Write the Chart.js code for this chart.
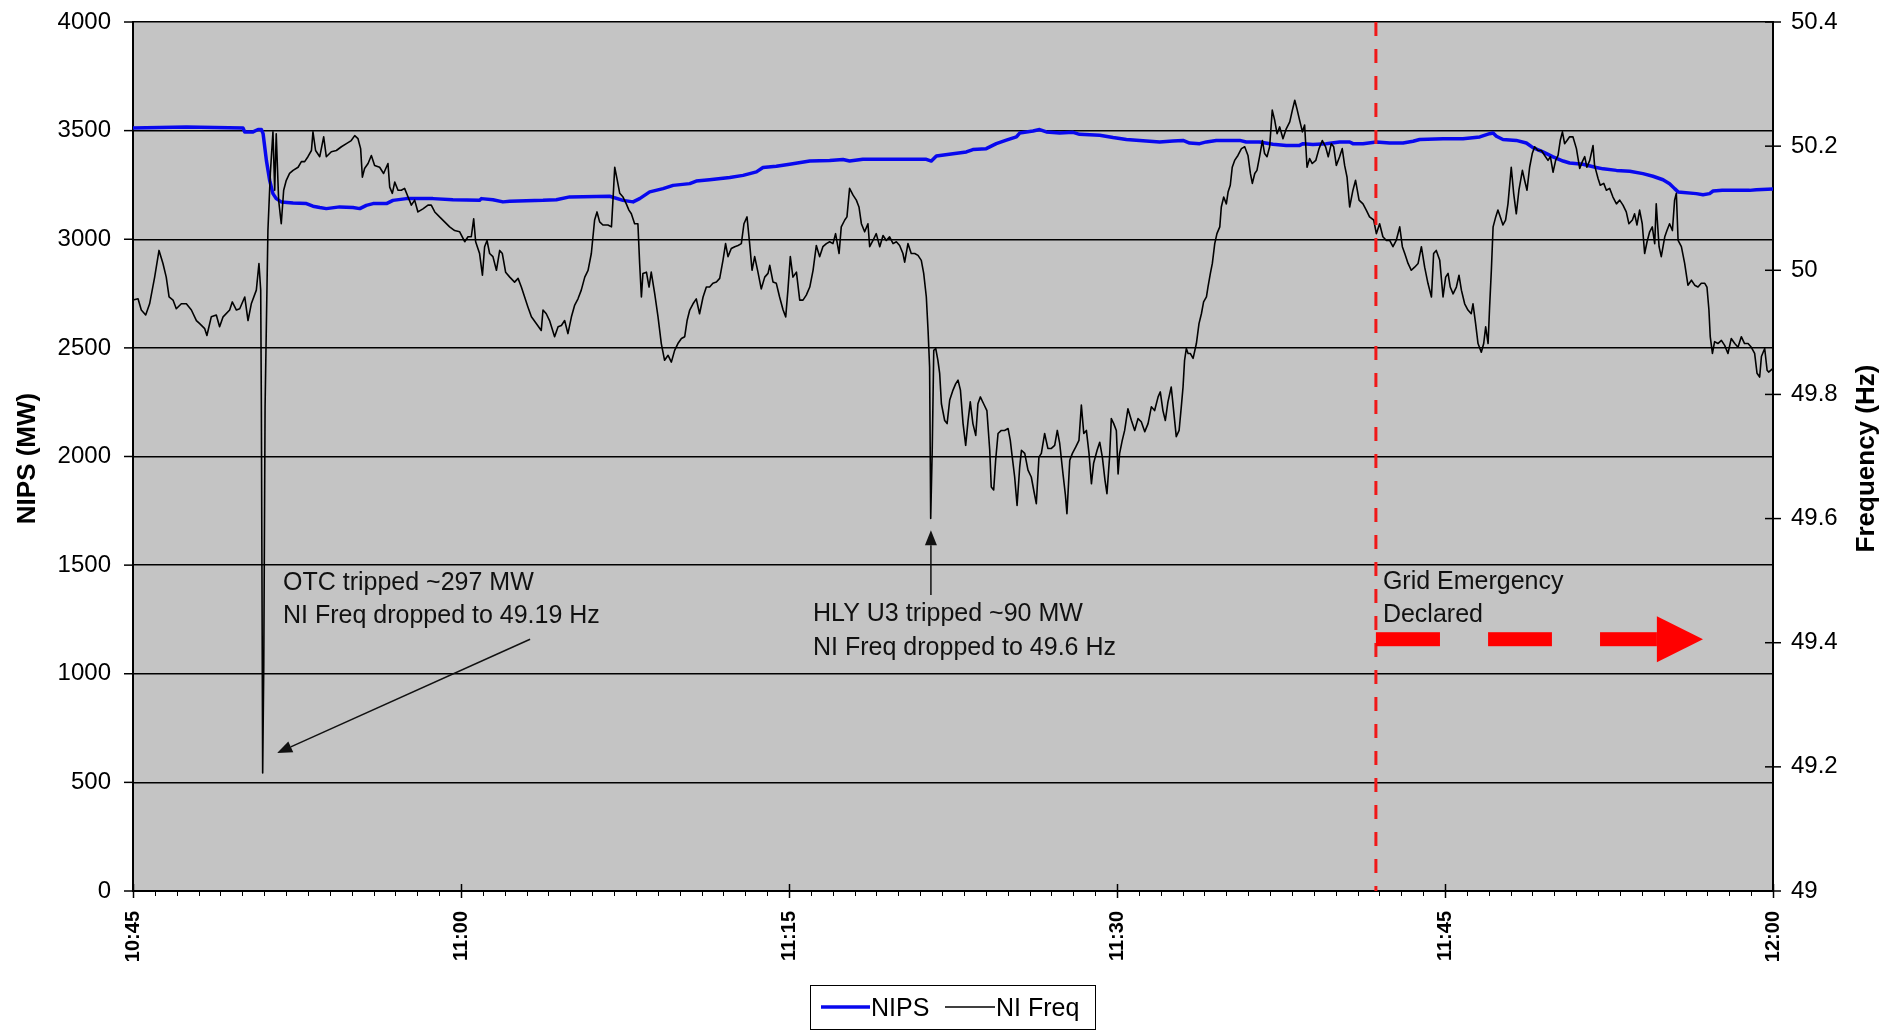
<!DOCTYPE html>
<html>
<head>
<meta charset="utf-8">
<title>NIPS and NI Frequency</title>
<script src="https://cdn.jsdelivr.net/npm/chart.js@4.4.1/dist/chart.umd.min.js"></script>
<style>
  html, body { margin: 0; padding: 0; background: #fff; }
</style>
</head>
<body>
<canvas id="gridChart" width="1901" height="1030"></canvas>
<script>
// x axis: minutes after 10:45
const timeLabels = ['10:45', '11:00', '11:15', '11:30', '11:45', '12:00'];

// NI Freq (Hz)
const freqMinutes = [
  0.00, 0.23, 0.38, 0.58, 0.76, 0.99, 1.19, 1.37, 1.52, 1.65,
  1.83, 1.98, 2.21, 2.44, 2.67, 2.90, 3.05, 3.28, 3.38, 3.58,
  3.81, 3.96, 4.12, 4.42, 4.54, 4.73, 4.88, 5.11, 5.26, 5.41,
  5.64, 5.76, 5.84, 5.87, 5.93, 5.98, 6.04, 6.10, 6.17, 6.28,
  6.40, 6.48, 6.55, 6.66, 6.78, 6.89, 7.01, 7.16, 7.32, 7.55,
  7.70, 7.85, 8.00, 8.16, 8.23, 8.35, 8.54, 8.72, 8.84, 9.07,
  9.30, 9.53, 9.76, 9.98, 10.14, 10.29, 10.41, 10.49, 10.59, 10.75,
  10.90, 11.05, 11.28, 11.46, 11.66, 11.74, 11.86, 11.97, 12.12, 12.27,
  12.42, 12.58, 12.73, 12.88, 13.03, 13.26, 13.49, 13.64, 13.80, 14.02,
  14.25, 14.48, 14.71, 14.94, 15.17, 15.32, 15.47, 15.58, 15.67, 15.85,
  15.98, 16.08, 16.19, 16.31, 16.46, 16.62, 16.77, 16.89, 17.04, 17.23,
  17.45, 17.61, 17.76, 17.91, 18.06, 18.22, 18.45, 18.67,
  18.75, 18.90, 19.05, 19.28, 19.44, 19.59, 19.74, 19.89, 20.05, 20.20,
  20.35, 20.50, 20.66, 20.81, 20.96, 21.11, 21.22, 21.34, 21.49, 21.72,
  21.88, 21.95, 22.03, 22.13, 22.26, 22.41, 22.56, 22.68, 22.79, 22.94,
  23.09, 23.17, 23.25, 23.32, 23.48, 23.60, 23.70, 23.86, 24.01, 24.16,
  24.31, 24.47, 24.62, 24.77, 24.92, 25.08, 25.23, 25.34, 25.46, 25.61,
  25.76, 25.91, 26.07, 26.22, 26.37, 26.52, 26.68, 26.83, 26.98, 27.10,
  27.21, 27.36, 27.52, 27.67, 27.82, 27.94, 28.08, 28.20, 28.31, 28.43,
  28.58, 28.73, 28.89, 29.04, 29.12, 29.27, 29.42, 29.57, 29.73, 29.85,
  29.95, 30.06, 30.18, 30.34, 30.49, 30.64, 30.79, 30.95, 31.10, 31.25,
  31.40, 31.55, 31.71, 31.86, 32.01, 32.13, 32.29, 32.39, 32.55, 32.65,
  32.77, 32.93, 33.08, 33.20, 33.31, 33.46, 33.61, 33.69, 33.84, 33.99,
  34.15, 34.30, 34.45, 34.60, 34.76, 34.91, 35.06, 35.21, 35.29, 35.44,
  35.59, 35.75, 35.90, 36.05, 36.16, 36.28, 36.36, 36.43, 36.48, 36.55,
  36.62, 36.71, 36.81, 36.89, 36.97, 37.12, 37.23, 37.35,
  37.50, 37.62, 37.73, 37.84, 37.96, 38.08, 38.19, 38.29, 38.41, 38.54,
  38.64, 38.75, 38.90, 39.05, 39.18, 39.25, 39.36, 39.45, 39.56, 39.71,
  39.86, 40.02, 40.12, 40.21, 40.32, 40.43, 40.55, 40.63, 40.78, 40.93,
  41.08, 41.19, 41.31, 41.43, 41.54, 41.69, 41.84, 42.00, 42.15, 42.27,
  42.38, 42.53, 42.64, 42.71, 42.84, 42.96, 43.11, 43.26, 43.37, 43.48,
  43.60, 43.72, 43.83, 43.93, 44.09, 44.21, 44.33, 44.45, 44.54, 44.66,
  44.74, 44.85, 44.97, 45.05, 45.12, 45.24, 45.35, 45.50, 45.66, 45.81,
  45.96, 46.11, 46.27, 46.42, 46.57, 46.72, 46.88, 46.98, 47.10, 47.21,
  47.33, 47.48, 47.59, 47.71, 47.84, 47.94, 48.02, 48.09, 48.17, 48.25,
  48.35, 48.48, 48.63, 48.75, 48.86, 48.96, 49.09, 49.16, 49.27, 49.36,
  49.47, 49.57, 49.70, 49.77, 49.88, 50.00, 50.08, 50.18, 50.27, 50.38,
  50.53, 50.69, 50.84, 50.99, 51.10, 51.19, 51.30, 51.40, 51.52, 51.65,
  51.75, 51.86, 51.98, 52.10, 52.21, 52.32, 52.44, 52.59, 52.74, 52.90,
  53.02, 53.13, 53.23, 53.35, 53.48, 53.58, 53.69, 53.81, 53.93, 54.09,
  54.24, 54.39, 54.54, 54.66, 54.80, 54.91, 55.03, 55.18, 55.30, 55.41,
  55.52, 55.64, 55.79, 55.91, 56.07, 56.25,
  56.40, 56.55, 56.74, 56.86, 57.01, 57.16, 57.32, 57.47, 57.62, 57.77,
  57.93, 58.05, 58.16, 58.31, 58.46, 58.61, 58.77, 58.92, 59.07, 59.22,
  59.38, 59.48, 59.60, 59.76, 59.91, 60.03, 60.14, 60.24, 60.37, 60.52,
  60.64, 60.75, 60.90, 61.05, 61.20, 61.28, 61.40, 61.51, 61.66, 61.77,
  61.86, 61.97, 62.04, 62.12, 62.20, 62.32, 62.42, 62.53, 62.65, 62.77,
  62.88, 63.03, 63.14, 63.26, 63.38, 63.54, 63.64, 63.75, 63.87, 63.99,
  64.10, 64.25, 64.41, 64.56, 64.71, 64.82, 64.94, 65.06, 65.17, 65.27,
  65.37, 65.47, 65.58, 65.70, 65.85, 66.01, 66.16, 66.28, 66.39, 66.49,
  66.62, 66.77, 66.84, 67.00, 67.10, 67.26, 67.38, 67.53, 67.68, 67.84,
  67.99, 68.14, 68.29, 68.41, 68.57, 68.67, 68.78, 68.90, 69.02, 69.13,
  69.24, 69.36, 69.48, 69.59, 69.66, 69.79, 69.89, 70.05, 70.15, 70.27,
  70.40, 70.50, 70.58, 70.66, 70.81, 70.96, 71.11, 71.27, 71.42, 71.57,
  71.72, 71.88, 71.98, 72.07, 72.13, 72.23, 72.33, 72.48, 72.64, 72.79,
  72.94, 73.09, 73.25, 73.40, 73.55, 73.70, 73.86, 74.01, 74.16, 74.27,
  74.39, 74.47, 74.62, 74.73, 74.80, 75.00
];
const freqHz = [
  49.952, 49.954, 49.936, 49.928, 49.946, 49.989, 50.032, 50.011, 49.989, 49.957,
  49.952, 49.938, 49.946, 49.946, 49.936, 49.919, 49.914, 49.906, 49.895, 49.925,
  49.928, 49.909, 49.925, 49.936, 49.949, 49.936, 49.938, 49.957, 49.919, 49.946,
  49.968, 50.011, 49.968, 49.780, 49.190, 49.362, 49.780, 49.914, 50.064, 50.156,
  50.223, 50.129, 50.220, 50.113, 50.075, 50.129, 50.145, 50.156, 50.161, 50.166,
  50.175, 50.175, 50.183, 50.193, 50.223, 50.193, 50.183, 50.215, 50.183, 50.191,
  50.193, 50.199, 50.204, 50.209, 50.217, 50.212, 50.196, 50.150, 50.164, 50.172,
  50.185, 50.169, 50.166, 50.156, 50.172, 50.134, 50.124, 50.142, 50.129, 50.129,
  50.132, 50.118, 50.105, 50.113, 50.094, 50.099, 50.105, 50.105, 50.094, 50.086,
  50.078, 50.070, 50.064, 50.062, 50.046, 50.054, 50.054, 50.083, 50.046, 50.027,
  49.992, 50.038, 50.048, 50.027, 50.022, 50.000, 50.032, 50.027, 49.997, 49.989,
  49.981, 49.987, 49.973, 49.957, 49.941, 49.925, 49.914, 49.903,
  49.936, 49.930, 49.919, 49.893, 49.909, 49.911, 49.919, 49.898, 49.925, 49.944,
  49.954, 49.968, 49.989, 50.000, 50.027, 50.081, 50.094, 50.078, 50.073, 50.073,
  50.070, 50.113, 50.166, 50.148, 50.124, 50.118, 50.107, 50.097, 50.091, 50.075,
  50.075, 50.011, 49.957, 49.995, 49.997, 49.973, 49.997, 49.962, 49.925, 49.882,
  49.855, 49.863, 49.852, 49.871, 49.882, 49.890, 49.893, 49.919, 49.936, 49.946,
  49.954, 49.930, 49.957, 49.973, 49.973, 49.979, 49.981, 49.987, 50.016, 50.043,
  50.022, 50.035, 50.038, 50.040, 50.043, 50.075, 50.086, 50.043, 50.000, 50.022,
  49.997, 49.970, 49.989, 49.995, 50.008, 49.981, 49.979, 49.957, 49.936, 49.925,
  49.968, 50.022, 49.989, 49.997, 49.952, 49.952, 49.960, 49.973, 50.000, 50.040,
  50.022, 50.038, 50.043, 50.046, 50.043, 50.059, 50.027, 50.070, 50.081, 50.086,
  50.132, 50.121, 50.113, 50.102, 50.075, 50.062, 50.075, 50.038, 50.048, 50.059,
  50.038, 50.056, 50.048, 50.054, 50.043, 50.046, 50.040, 50.027, 50.013, 50.043,
  50.027, 50.027, 50.024, 50.016, 49.995, 49.957, 49.903, 49.844, 49.600, 49.710,
  49.871, 49.874, 49.855, 49.834, 49.785, 49.758, 49.753, 49.791,
  49.807, 49.817, 49.823, 49.807, 49.753, 49.718, 49.758, 49.788, 49.753, 49.734,
  49.785, 49.796, 49.785, 49.774, 49.710, 49.651, 49.646, 49.694, 49.737, 49.742,
  49.742, 49.745, 49.726, 49.699, 49.667, 49.621, 49.683, 49.710, 49.705, 49.678,
  49.667, 49.646, 49.624, 49.699, 49.705, 49.737, 49.713, 49.713, 49.718, 49.742,
  49.721, 49.672, 49.638, 49.608, 49.694, 49.705, 49.715, 49.726, 49.783, 49.737,
  49.742, 49.705, 49.656, 49.689, 49.710, 49.723, 49.699, 49.662, 49.640, 49.699,
  49.761, 49.753, 49.742, 49.672, 49.705, 49.726, 49.742, 49.777, 49.758, 49.742,
  49.761, 49.756, 49.740, 49.753, 49.780, 49.774, 49.796, 49.804, 49.774, 49.758,
  49.788, 49.812, 49.774, 49.732, 49.742, 49.780, 49.812, 49.855, 49.874, 49.866,
  49.866, 49.858, 49.882, 49.914, 49.930, 49.949, 49.957, 49.973, 49.995, 50.011,
  50.043, 50.059, 50.070, 50.102, 50.118, 50.107, 50.126, 50.137, 50.166, 50.177,
  50.185, 50.196, 50.199, 50.185, 50.156, 50.140, 50.156, 50.161, 50.183, 50.209,
  50.188, 50.183, 50.199, 50.258, 50.242, 50.220, 50.231, 50.212, 50.228, 50.239,
  50.258, 50.274, 50.260, 50.242, 50.223, 50.234, 50.166, 50.180, 50.172, 50.177,
  50.196, 50.209, 50.199, 50.183, 50.204, 50.199, 50.169, 50.183, 50.196, 50.169,
  50.150, 50.102, 50.129, 50.145, 50.113, 50.107,
  50.097, 50.086, 50.081, 50.059, 50.075, 50.054, 50.048, 50.048, 50.038, 50.048,
  50.070, 50.038, 50.027, 50.011, 50.000, 50.005, 50.011, 50.038, 50.005, 49.979,
  49.957, 50.027, 50.032, 50.016, 49.957, 49.989, 49.995, 49.973, 49.962, 49.973,
  49.992, 49.968, 49.946, 49.936, 49.930, 49.946, 49.914, 49.882, 49.868, 49.882,
  49.909, 49.882, 49.941, 50.000, 50.070, 50.086, 50.097, 50.086, 50.073, 50.081,
  50.107, 50.166, 50.124, 50.091, 50.129, 50.161, 50.145, 50.129, 50.166, 50.188,
  50.199, 50.193, 50.193, 50.185, 50.177, 50.183, 50.158, 50.177, 50.185, 50.209,
  50.223, 50.204, 50.209, 50.215, 50.215, 50.196, 50.164, 50.175, 50.183, 50.166,
  50.177, 50.201, 50.169, 50.148, 50.137, 50.140, 50.129, 50.132, 50.118, 50.107,
  50.113, 50.105, 50.094, 50.075, 50.081, 50.091, 50.073, 50.097, 50.075, 50.027,
  50.046, 50.062, 50.070, 50.043, 50.107, 50.038, 50.022, 50.054, 50.064, 50.075,
  50.064, 50.113, 50.124, 50.048, 50.038, 50.011, 49.976, 49.984, 49.976, 49.973,
  49.979, 49.979, 49.973, 49.936, 49.893, 49.866, 49.885, 49.882, 49.887, 49.879,
  49.866, 49.890, 49.882, 49.876, 49.893, 49.882, 49.882, 49.876, 49.866, 49.834,
  49.828, 49.861, 49.874, 49.839, 49.836, 49.842
];

// NIPS (MW)
const nipsMinutes = [
  0.00, 2.44, 5.03, 5.11, 5.49, 5.72, 5.87, 5.95, 6.10, 6.25,
  6.40, 6.55, 6.78, 7.32, 7.93, 8.23, 8.54, 8.84, 9.45, 10.06,
  10.37, 10.67, 10.98, 11.59, 11.89, 12.50, 13.72, 14.63, 15.85, 15.93,
  16.46, 16.92, 17.23, 18.75,
  19.36, 19.97, 21.80, 22.41, 22.87, 23.17, 23.63, 24.24, 24.70, 25.46,
  25.76, 26.37, 27.29, 27.90, 28.51, 28.81, 29.42, 30.03, 30.95, 31.86,
  32.47, 32.77, 33.38, 34.91, 36.28, 36.51, 36.74, 37.50,
  38.11, 38.41, 39.02, 39.48, 39.94, 40.40, 40.55, 41.16, 41.46, 41.77,
  42.38, 42.99, 43.29, 44.21, 44.82, 45.43, 46.34, 46.95, 47.56, 48.02,
  48.32, 48.78, 49.09, 49.54, 50.61, 50.91, 51.52, 52.13, 52.74, 53.35,
  53.51, 53.96, 54.57, 55.18, 55.64, 55.79, 56.25,
  56.86, 57.47, 58.08, 58.54, 58.84, 59.91, 60.82, 61.59, 62.04, 62.20,
  62.35, 62.65, 63.26, 63.72, 64.02, 64.48, 64.94, 65.40, 65.70, 66.31,
  66.92, 67.23, 67.84, 68.45, 69.05, 69.51, 69.97, 70.27, 70.50, 70.66,
  71.49, 71.80, 72.10, 72.26, 72.68, 73.93, 74.24, 75.00
];
const nipsMW = [
  3512, 3517, 3512, 3494, 3494, 3505, 3505, 3486, 3363, 3271,
  3210, 3187, 3172, 3167, 3164, 3152, 3146, 3141, 3149, 3146,
  3141, 3156, 3164, 3164, 3179, 3187, 3187, 3182, 3179, 3187,
  3182, 3172, 3175, 3179,
  3182, 3195, 3198, 3179, 3172, 3187, 3218, 3233, 3248, 3256,
  3268, 3274, 3284, 3294, 3310, 3330, 3336, 3345, 3360, 3363,
  3367, 3360, 3368, 3368, 3368, 3360, 3383, 3394,
  3402, 3413, 3417, 3440, 3456, 3471, 3489, 3498, 3505, 3494,
  3489, 3492, 3483, 3479, 3468, 3459, 3452, 3448, 3452, 3455,
  3443, 3440, 3448, 3455, 3455, 3448, 3448, 3437, 3432, 3432,
  3440, 3436, 3440, 3448, 3448, 3440, 3440,
  3448, 3443, 3443, 3451, 3459, 3463, 3463, 3471, 3486, 3489,
  3474, 3459, 3455, 3443, 3422, 3402, 3379, 3360, 3351, 3345,
  3330, 3324, 3317, 3313, 3302, 3290, 3274, 3256, 3233, 3218,
  3210, 3205, 3210, 3222, 3225, 3225, 3228, 3231
];

// events (minutes after 10:45)
const emergencyMinute = 56.84;

// annotation placement in chart units (minute, MW on the left axis)
const notes = [
  { minute: 6.86, mw: [1385, 1233], lines: ['OTC tripped ~297 MW', 'NI Freq dropped to 49.19 Hz'] },
  { minute: 31.10, mw: [1242, 1086], lines: ['HLY U3 tripped ~90 MW', 'NI Freq dropped to 49.6 Hz'] },
  { minute: 57.16, mw: [1390, 1238], lines: ['Grid Emergency', 'Declared'] }
];
const pointers = [
  { from: [18.16, 1159], to: [6.59, 635] },
  { from: [36.49, 1362], to: [36.49, 1661] }
];
const redArrow = { mw: 1159, dashes: [[56.84, 59.77], [61.97, 64.89], [67.09, 69.69]], head: [69.69, 71.80] };

const FONT = '"Liberation Sans", Arial, sans-serif';
const NIPS_BLUE = '#0808ee';
const PLOT_GRAY = '#c4c4c4';

function drawArrow(ctx, x1, y1, x2, y2, headLen, headHalf) {
  const ang = Math.atan2(y2 - y1, x2 - x1);
  const bx = x2 - headLen * Math.cos(ang);
  const by = y2 - headLen * Math.sin(ang);
  ctx.beginPath();
  ctx.moveTo(x1, y1);
  ctx.lineTo(bx, by);
  ctx.stroke();
  ctx.beginPath();
  ctx.moveTo(x2, y2);
  ctx.lineTo(bx + headHalf * Math.sin(ang), by - headHalf * Math.cos(ang));
  ctx.lineTo(bx - headHalf * Math.sin(ang), by + headHalf * Math.cos(ang));
  ctx.closePath();
  ctx.fill();
}

const decorations = {
  id: 'decorations',
  beforeDraw(chart) {
    const { ctx, chartArea: a } = chart;
    ctx.save();
    ctx.fillStyle = PLOT_GRAY;
    ctx.fillRect(a.left, a.top, a.right - a.left, a.bottom - a.top);
    ctx.restore();
  },
  afterDatasetsDraw(chart) {
    const { ctx, chartArea: a } = chart;
    const xs = chart.scales.x, ys = chart.scales.y;
    ctx.save();

    // grid emergency line
    const ex = xs.getPixelForValue(emergencyMinute);
    ctx.strokeStyle = '#f01818';
    ctx.lineWidth = 3;
    ctx.setLineDash([14, 13]);
    ctx.beginPath();
    ctx.moveTo(ex, a.top);
    ctx.lineTo(ex, a.bottom);
    ctx.stroke();
    ctx.setLineDash([]);

    // red dashed arrow
    const ry = ys.getPixelForValue(redArrow.mw);
    ctx.fillStyle = '#ff0000';
    redArrow.dashes.forEach(d => {
      const x1 = xs.getPixelForValue(d[0]), x2 = xs.getPixelForValue(d[1]);
      ctx.fillRect(x1, ry - 7, x2 - x1, 14);
    });
    const hx1 = xs.getPixelForValue(redArrow.head[0]), hx2 = xs.getPixelForValue(redArrow.head[1]);
    ctx.beginPath();
    ctx.moveTo(hx1, ry - 23);
    ctx.lineTo(hx2, ry);
    ctx.lineTo(hx1, ry + 23);
    ctx.closePath();
    ctx.fill();

    // text notes
    ctx.fillStyle = '#111';
    ctx.font = '25px ' + FONT;
    ctx.textAlign = 'left';
    ctx.textBaseline = 'alphabetic';
    notes.forEach(n => {
      const x = xs.getPixelForValue(n.minute);
      n.lines.forEach((t, i) => ctx.fillText(t, x, ys.getPixelForValue(n.mw[i])));
    });

    // black pointers
    ctx.strokeStyle = '#111';
    ctx.fillStyle = '#111';
    ctx.lineWidth = 1.5;
    pointers.forEach(p => {
      drawArrow(ctx,
        xs.getPixelForValue(p.from[0]), ys.getPixelForValue(p.from[1]),
        xs.getPixelForValue(p.to[0]), ys.getPixelForValue(p.to[1]), 15, 6);
    });
    ctx.restore();
  },
  afterDraw(chart) {
    const { ctx, chartArea: a } = chart;
    const xs = chart.scales.x, ys = chart.scales.y, yr = chart.scales.y1;
    ctx.save();
    ctx.strokeStyle = '#000';

    // x ticks: every minute, majors cross the axis
    for (let m = 0; m <= 75; m++) {
      const x = Math.round(xs.getPixelForValue(m)) + 0.5;
      const major = m % 15 === 0;
      ctx.lineWidth = major ? 1.5 : 1;
      ctx.beginPath();
      ctx.moveTo(x, major ? a.bottom - 7 : a.bottom);
      ctx.lineTo(x, a.bottom + (major ? 7 : 5));
      ctx.stroke();
    }
    // left ticks
    ctx.lineWidth = 1.5;
    for (let v = 0; v <= 4000; v += 500) {
      const y = ys.getPixelForValue(v);
      ctx.beginPath();
      ctx.moveTo(a.left - 9, y);
      ctx.lineTo(a.left, y);
      ctx.stroke();
    }
    // right ticks, crossing
    for (let i = 0; i <= 7; i++) {
      const y = yr.getPixelForValue(49 + i * 0.2);
      ctx.beginPath();
      ctx.moveTo(a.right - 8, y);
      ctx.lineTo(a.right + 8, y);
      ctx.stroke();
    }

    // axis titles, both read bottom to top
    ctx.fillStyle = '#000';
    ctx.font = 'bold 26px ' + FONT;
    ctx.textAlign = 'center';
    ctx.textBaseline = 'middle';
    const midY = (a.top + a.bottom) / 2;
    [['NIPS (MW)', 28], ['Frequency (Hz)', 1867]].forEach(([t, x]) => {
      ctx.save();
      ctx.translate(x, midY + 2);
      ctx.rotate(-Math.PI / 2);
      ctx.fillText(t, 0, 0);
      ctx.restore();
    });

    // legend box under the plot
    const cx = (a.left + a.right) / 2;
    const lx = cx - 143, ly = 985, lw = 285, lh = 44;
    ctx.fillStyle = '#fff';
    ctx.fillRect(lx, ly, lw, lh);
    ctx.lineWidth = 1;
    ctx.strokeStyle = '#000';
    ctx.strokeRect(lx + 0.5, ly + 0.5, lw, lh);
    const my = ly + 22;
    ctx.lineWidth = 3.5;
    ctx.strokeStyle = NIPS_BLUE;
    ctx.beginPath(); ctx.moveTo(lx + 11, my); ctx.lineTo(lx + 60, my); ctx.stroke();
    ctx.lineWidth = 1.5;
    ctx.strokeStyle = '#000';
    ctx.beginPath(); ctx.moveTo(lx + 135, my); ctx.lineTo(lx + 185, my); ctx.stroke();
    ctx.font = '25px ' + FONT;
    ctx.textAlign = 'left';
    ctx.textBaseline = 'alphabetic';
    ctx.fillStyle = '#000';
    ctx.fillText('NIPS', lx + 61, my + 9);
    ctx.fillText('NI Freq', lx + 186, my + 9);
    ctx.restore();
  }
};

const ctx = document.getElementById('gridChart').getContext('2d');
new Chart(ctx, {
  type: 'line',
  data: {
    datasets: [
      {
        label: 'NI Freq',
        data: freqMinutes.map((m, i) => ({ x: m, y: freqHz[i] })),
        yAxisID: 'y1',
        borderColor: '#000',
        borderWidth: 1.6,
        borderJoinStyle: 'round',
        pointRadius: 0,
        tension: 0,
        order: 0
      },
      {
        label: 'NIPS',
        data: nipsMinutes.map((m, i) => ({ x: m, y: nipsMW[i] })),
        yAxisID: 'y',
        borderColor: NIPS_BLUE,
        borderWidth: 3.5,
        borderJoinStyle: 'round',
        pointRadius: 0,
        tension: 0,
        order: 1
      }
    ]
  },
  options: {
    responsive: false,
    animation: false,
    layout: { padding: { top: 22, left: 0, right: 0, bottom: 0 } },
    plugins: {
      legend: { display: false },
      tooltip: { enabled: false }
    },
    scales: {
      x: {
        type: 'linear',
        min: 0,
        max: 75,
        ticks: {
          stepSize: 15,
          minRotation: 90,
          maxRotation: 90,
          padding: 12,
          color: '#000',
          font: { family: FONT, size: 20, weight: 'bold' },
          callback: v => timeLabels[Math.round(v / 15)]
        },
        grid: { display: false },
        border: { display: true, color: '#000', width: 2 },
        afterFit: s => { s.height = 139; }
      },
      y: {
        position: 'left',
        min: 0,
        max: 4000,
        ticks: {
          stepSize: 500,
          padding: 0,
          color: '#000',
          font: { family: FONT, size: 24 },
          callback: v => String(v)
        },
        // invisible tick marks keep the labels off the axis; real ticks are drawn by the plugin
        grid: { color: '#000', lineWidth: 1.5, drawTicks: true, tickLength: 22, tickColor: 'rgba(0,0,0,0)' },
        border: { display: true, color: '#000', width: 2 },
        afterFit: s => { s.width = 133; }
      },
      y1: {
        position: 'right',
        min: 49,
        max: 50.4,
        ticks: {
          stepSize: 0.2,
          padding: 0,
          color: '#000',
          font: { family: FONT, size: 24 },
          callback: v => String(Math.round(v * 10) / 10)
        },
        grid: { display: true, drawOnChartArea: false, drawTicks: true, tickLength: 18, tickColor: 'rgba(0,0,0,0)' },
        border: { display: true, color: '#000', width: 2 },
        afterFit: s => { s.width = 128; }
      }
    }
  },
  plugins: [decorations]
});
</script>
</body>
</html>
